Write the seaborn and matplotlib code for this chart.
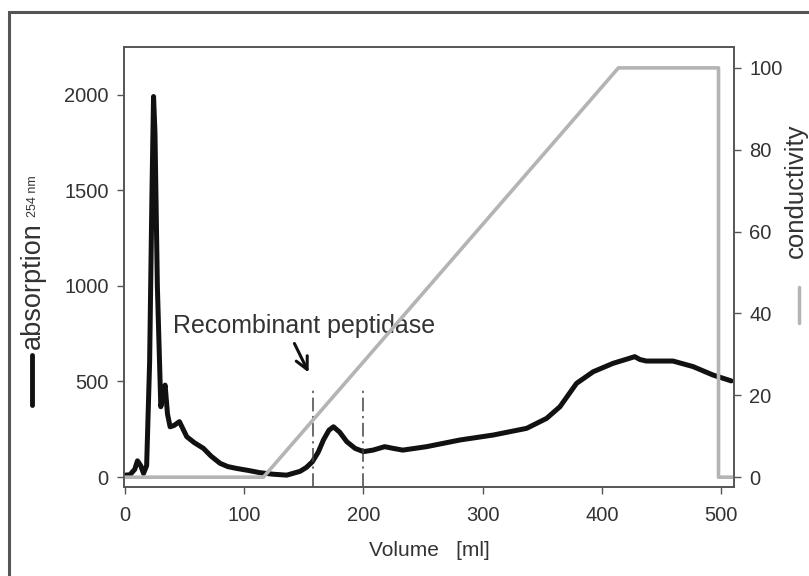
import numpy as np
import pandas as pd
import matplotlib
matplotlib.use("Agg")
import matplotlib.pyplot as plt
from matplotlib.lines import Line2D
from matplotlib.patches import Rectangle
import seaborn as sns

# absorption trace (254 nm)
volume = [0, 4, 8, 10.3, 13, 15.4, 18, 20.5, 22.5, 23.8, 25, 27, 29.9, 31.5, 33.5,
          35.5, 37.7, 41, 45.5, 51.7, 58, 65.7, 72, 79.6, 86, 93.6, 103, 113, 124,
          135.6, 146.8, 152, 157.1, 162, 166.4, 171, 174.8, 180, 186, 193, 200, 208,
          217.8, 225, 233, 253, 281, 309, 337, 353.7, 364.9, 378.8, 392.8, 409.5,
          420, 427.7, 432, 437.4, 459.8, 476.6, 493.3, 508.7]
absorption = [10, 12, 40, 85, 60, 19, 60, 600, 1500, 1991, 1800, 1000, 368, 420, 481,
              330, 263, 270, 290, 211, 180, 150, 110, 72, 55, 45, 35, 23, 15,
              10, 30, 50, 80, 130, 194, 245, 263, 235, 185, 150, 133, 141,
              159, 150, 141, 159, 194, 220, 255, 307, 368, 490, 551, 595,
              615, 630, 615, 607, 607, 578, 534, 503]

# conductivity gradient (%)
cond_volume = [0, 116, 414, 498, 498, 510]
conductivity = [0, 0, 100, 100, 0, 0]

# fraction markers
fraction_edges = [157.5, 199.5]

x_ticks = [0, 100, 200, 300, 400, 500]
y_ticks = [0, 500, 1000, 1500, 2000]
cond_ticks = [0, 20, 40, 60, 80, 100]

sns.set_style("ticks")
plt.rcParams["font.family"] = ["Liberation Sans", "DejaVu Sans"]
text_col = "#333333"
spine_col = "#555555"

df_abs = pd.DataFrame({"Volume": volume, "absorption": absorption})
df_cond = pd.DataFrame({"Volume": cond_volume, "conductivity": conductivity})

fig = plt.figure(figsize=(8.09, 5.76), dpi=100)
ax = fig.add_axes([124 / 809, 89 / 576, 610 / 809, 440 / 576])
ax2 = ax.twinx()

sns.lineplot(data=df_abs, x="Volume", y="absorption", color="#111111", lw=3.6,
             estimator=None, sort=False, ax=ax)
sns.lineplot(data=df_cond, x="Volume", y="conductivity", color="#b4b4b4", lw=2.6,
             estimator=None, sort=False, ax=ax2)

ax.set_xlim(-1, 511)
ax.set_ylim(-52, 2250)
ax2.set_ylim(-2.4, 105.1)

ax.vlines(fraction_edges, -52, 455, colors="#444444", lw=1.1,
          linestyles=[(0, (9, 3, 1.5, 3))])

ax.set_xticks(x_ticks)
ax.set_yticks(y_ticks)
ax2.set_yticks(cond_ticks)
for a in (ax, ax2):
    a.tick_params(length=5, width=1, color=spine_col, labelsize=14.5,
                  labelcolor=text_col, pad=6)
    for s in a.spines.values():
        s.set_visible(True)
        s.set_color(spine_col)
        s.set_linewidth(1.2)
ax.tick_params(axis="x", pad=9)

ax.set_xlabel("Volume   [ml]", fontsize=15, color=text_col, labelpad=11)
ax.set_ylabel("")
ax2.set_ylabel("")

ax.annotate("", xy=(155, 534), xytext=(141, 712),
            arrowprops=dict(arrowstyle="->", color="#111111", lw=2.2,
                            mutation_scale=22))
ax.text(40, 790, "Recombinant peptidase", fontsize=18, color=text_col, va="center")

# axis labels with their line keys
fig.text(33 / 809, 1 - 286 / 576, "absorption", rotation=90, fontsize=19.5,
         color=text_col, ha="center", va="center")
fig.text(33 / 809, 1 - 196 / 576, "254 nm", rotation=90, fontsize=9,
         color=text_col, ha="center", va="center")
fig.add_artist(Line2D([32 / 809, 32 / 809], [1 - 355 / 576, 1 - 405 / 576],
                      color="#111111", lw=3.5))
fig.text(796 / 809, 1 - 191 / 576, "conductivity", rotation=90, fontsize=18.5,
         color=text_col, ha="center", va="center")
fig.add_artist(Line2D([799 / 809, 799 / 809], [1 - 287 / 576, 1 - 323 / 576],
                      color="#b4b4b4", lw=2.5))

# outer frame
fig.add_artist(Rectangle((9 / 809, -0.2), 1.5, 1.2 - 12 / 576, fill=False,
                         edgecolor="#555555", lw=2.2, transform=fig.transFigure))

fig.savefig("out.png", dpi=100)
